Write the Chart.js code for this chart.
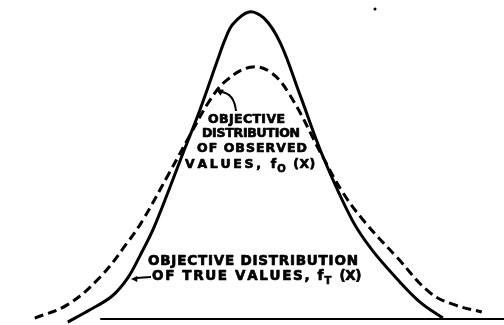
<!DOCTYPE html>
<html>
<head>
<meta charset="utf-8">
<script src="https://cdn.jsdelivr.net/npm/chart.js@4.4.0/dist/chart.umd.min.js"></script>
<style>
  html, body { margin: 0; padding: 0; background: #fff; }
  #grafico { display: block; }
</style>
</head>
<body>
<canvas id="grafico" width="504" height="325"></canvas>
<script>
// valores (x em desvios, y relativo ao pico da curva verdadeira)
const xVerdadeiro = [-3.02, -2.65, -2.28, -2.02, -1.82, -1.58, -1.10, -0.82, -0.53, -0.40, -0.27, 0.00, 0.25, 0.52, 0.85, 1.23, 1.72, 2.05, 2.47, 2.85, 3.23];
const yVerdadeiro = [-0.01, 0.03, 0.075, 0.134, 0.205, 0.30, 0.54, 0.68, 0.84, 0.91, 0.96, 1.00, 0.98, 0.90, 0.73, 0.53, 0.322, 0.225, 0.13, 0.055, 0.003];

const xObservado = [-3.57, -3.03, -2.48, -2.03, -1.77, -1.32, -0.98, -0.65, -0.37, 0.02, 0.35, 0.68, 1.23, 1.57, 1.93, 2.47, 3.02, 3.43, 3.88];
const yObservado = [0.003, 0.046, 0.137, 0.248, 0.322, 0.479, 0.60, 0.713, 0.778, 0.82, 0.805, 0.73, 0.528, 0.41, 0.316, 0.20, 0.085, 0.046, 0.023];

const xBase = [-2.48, 4.25];
const yBase = [0, 0];

const pontoSolto = [{ x: 2.1, y: 1.01 }];

// textos das legendas
const textoObservado = ["OBJECTIVE", "DISTRIBUTION", "OF OBSERVED", "VALUES, f", "O", " (X)"];
const textoVerdadeiro = ["OBJECTIVE DISTRIBUTION", "OF TRUE VALUES, f", "T", " (X)"];

function juntar(xs, ys) {
  return xs.map((x, i) => ({ x: x, y: ys[i] }));
}

// desenha uma linha de texto esticada até a largura pedida
function textoLargo(ctx, txt, x, y, largura, tamanho) {
  ctx.font = "bold " + tamanho + "px 'DejaVu Sans'";
  const w = ctx.measureText(txt).width;
  const extra = txt.length > 1 ? (largura - w) / (txt.length - 1) : 0;
  let cx = x;
  for (const c of txt) {
    ctx.strokeText(c, cx, y);
    ctx.fillText(c, cx, y);
    cx += ctx.measureText(c).width + extra;
  }
  return cx - extra;
}

function pontaSeta(ctx, x, y, ang, tam) {
  ctx.beginPath();
  ctx.moveTo(x, y);
  ctx.lineTo(x - tam * Math.cos(ang - 0.45), y - tam * Math.sin(ang - 0.45));
  ctx.lineTo(x - tam * Math.cos(ang + 0.45), y - tam * Math.sin(ang + 0.45));
  ctx.closePath();
  ctx.fill();
}

const notas = {
  id: "notas",
  afterDatasetsDraw(chart) {
    const ctx = chart.ctx;
    ctx.save();
    ctx.fillStyle = "#000";
    ctx.strokeStyle = "#000";
    ctx.lineWidth = 0.7;
    ctx.lineJoin = "round";
    ctx.textBaseline = "alphabetic";

    // rótulo da distribuição observada
    textoLargo(ctx, textoObservado[0], 208, 123, 77, 12.5);
    textoLargo(ctx, textoObservado[1], 202, 137, 98, 12.5);
    textoLargo(ctx, textoObservado[2], 197, 152, 110, 12.5);
    let fim = textoLargo(ctx, textoObservado[3], 185, 168, 90, 12.5);
    ctx.font = "bold 10px 'DejaVu Sans'";
    ctx.strokeText(textoObservado[4], fim + 1, 172);
    ctx.fillText(textoObservado[4], fim + 1, 172);
    textoLargo(ctx, textoObservado[5], fim + 12, 168, 27, 12.5);

    // rótulo da distribuição verdadeira
    textoLargo(ctx, textoVerdadeiro[0], 148, 265, 210, 13.5);
    fim = textoLargo(ctx, textoVerdadeiro[1], 152, 280, 170, 13.5);
    ctx.font = "bold 10px 'DejaVu Sans'";
    ctx.strokeText(textoVerdadeiro[2], fim + 1, 284);
    ctx.fillText(textoVerdadeiro[2], fim + 1, 284);
    textoLargo(ctx, textoVerdadeiro[3], fim + 12, 280, 26, 13.5);

    // seta curva para a curva observada
    ctx.lineWidth = 2;
    ctx.beginPath();
    ctx.moveTo(236, 111);
    ctx.quadraticCurveTo(234, 93, 221, 92);
    ctx.stroke();
    pontaSeta(ctx, 216, 89, Math.atan2(-3, -5), 8);

    // seta reta para a curva verdadeira
    ctx.beginPath();
    ctx.moveTo(151, 277);
    ctx.lineTo(136, 278);
    ctx.stroke();
    pontaSeta(ctx, 131, 279, Math.PI, 7);

    ctx.restore();
  }
};

const dados = {
  datasets: [
    {
      label: "True values",
      data: juntar(xVerdadeiro, yVerdadeiro),
      borderColor: "#000",
      borderWidth: 3,
      pointRadius: 0,
      tension: 0.35,
      fill: false,
    },
    {
      label: "Observed values",
      data: juntar(xObservado, yObservado),
      borderColor: "#000",
      borderWidth: 3,
      borderDash: [9, 5],
      pointRadius: 0,
      tension: 0.4,
      fill: false,
    },
    {
      label: "Baseline",
      data: juntar(xBase, yBase),
      borderColor: "#000",
      borderWidth: 2,
      pointRadius: 0,
      fill: false,
    },
    {
      label: "Ponto",
      type: "scatter",
      data: pontoSolto,
      backgroundColor: "#000",
      borderWidth: 0,
      pointRadius: 1.5,
    },
  ],
};

const config = {
  type: "line",
  data: dados,
  options: {
    responsive: false,
    animation: false,
    layout: { padding: 0, autoPadding: false },
    plugins: {
      legend: { display: false },
      tooltip: { enabled: false },
    },
    scales: {
      x: { type: "linear", min: -4.15, max: 4.25, display: false },
      y: { min: -0.0195, max: 1.039, display: false },
    },
  },
  plugins: [notas],
};

const grafico = new Chart(document.getElementById("grafico"), config);
</script>
</body>
</html>
